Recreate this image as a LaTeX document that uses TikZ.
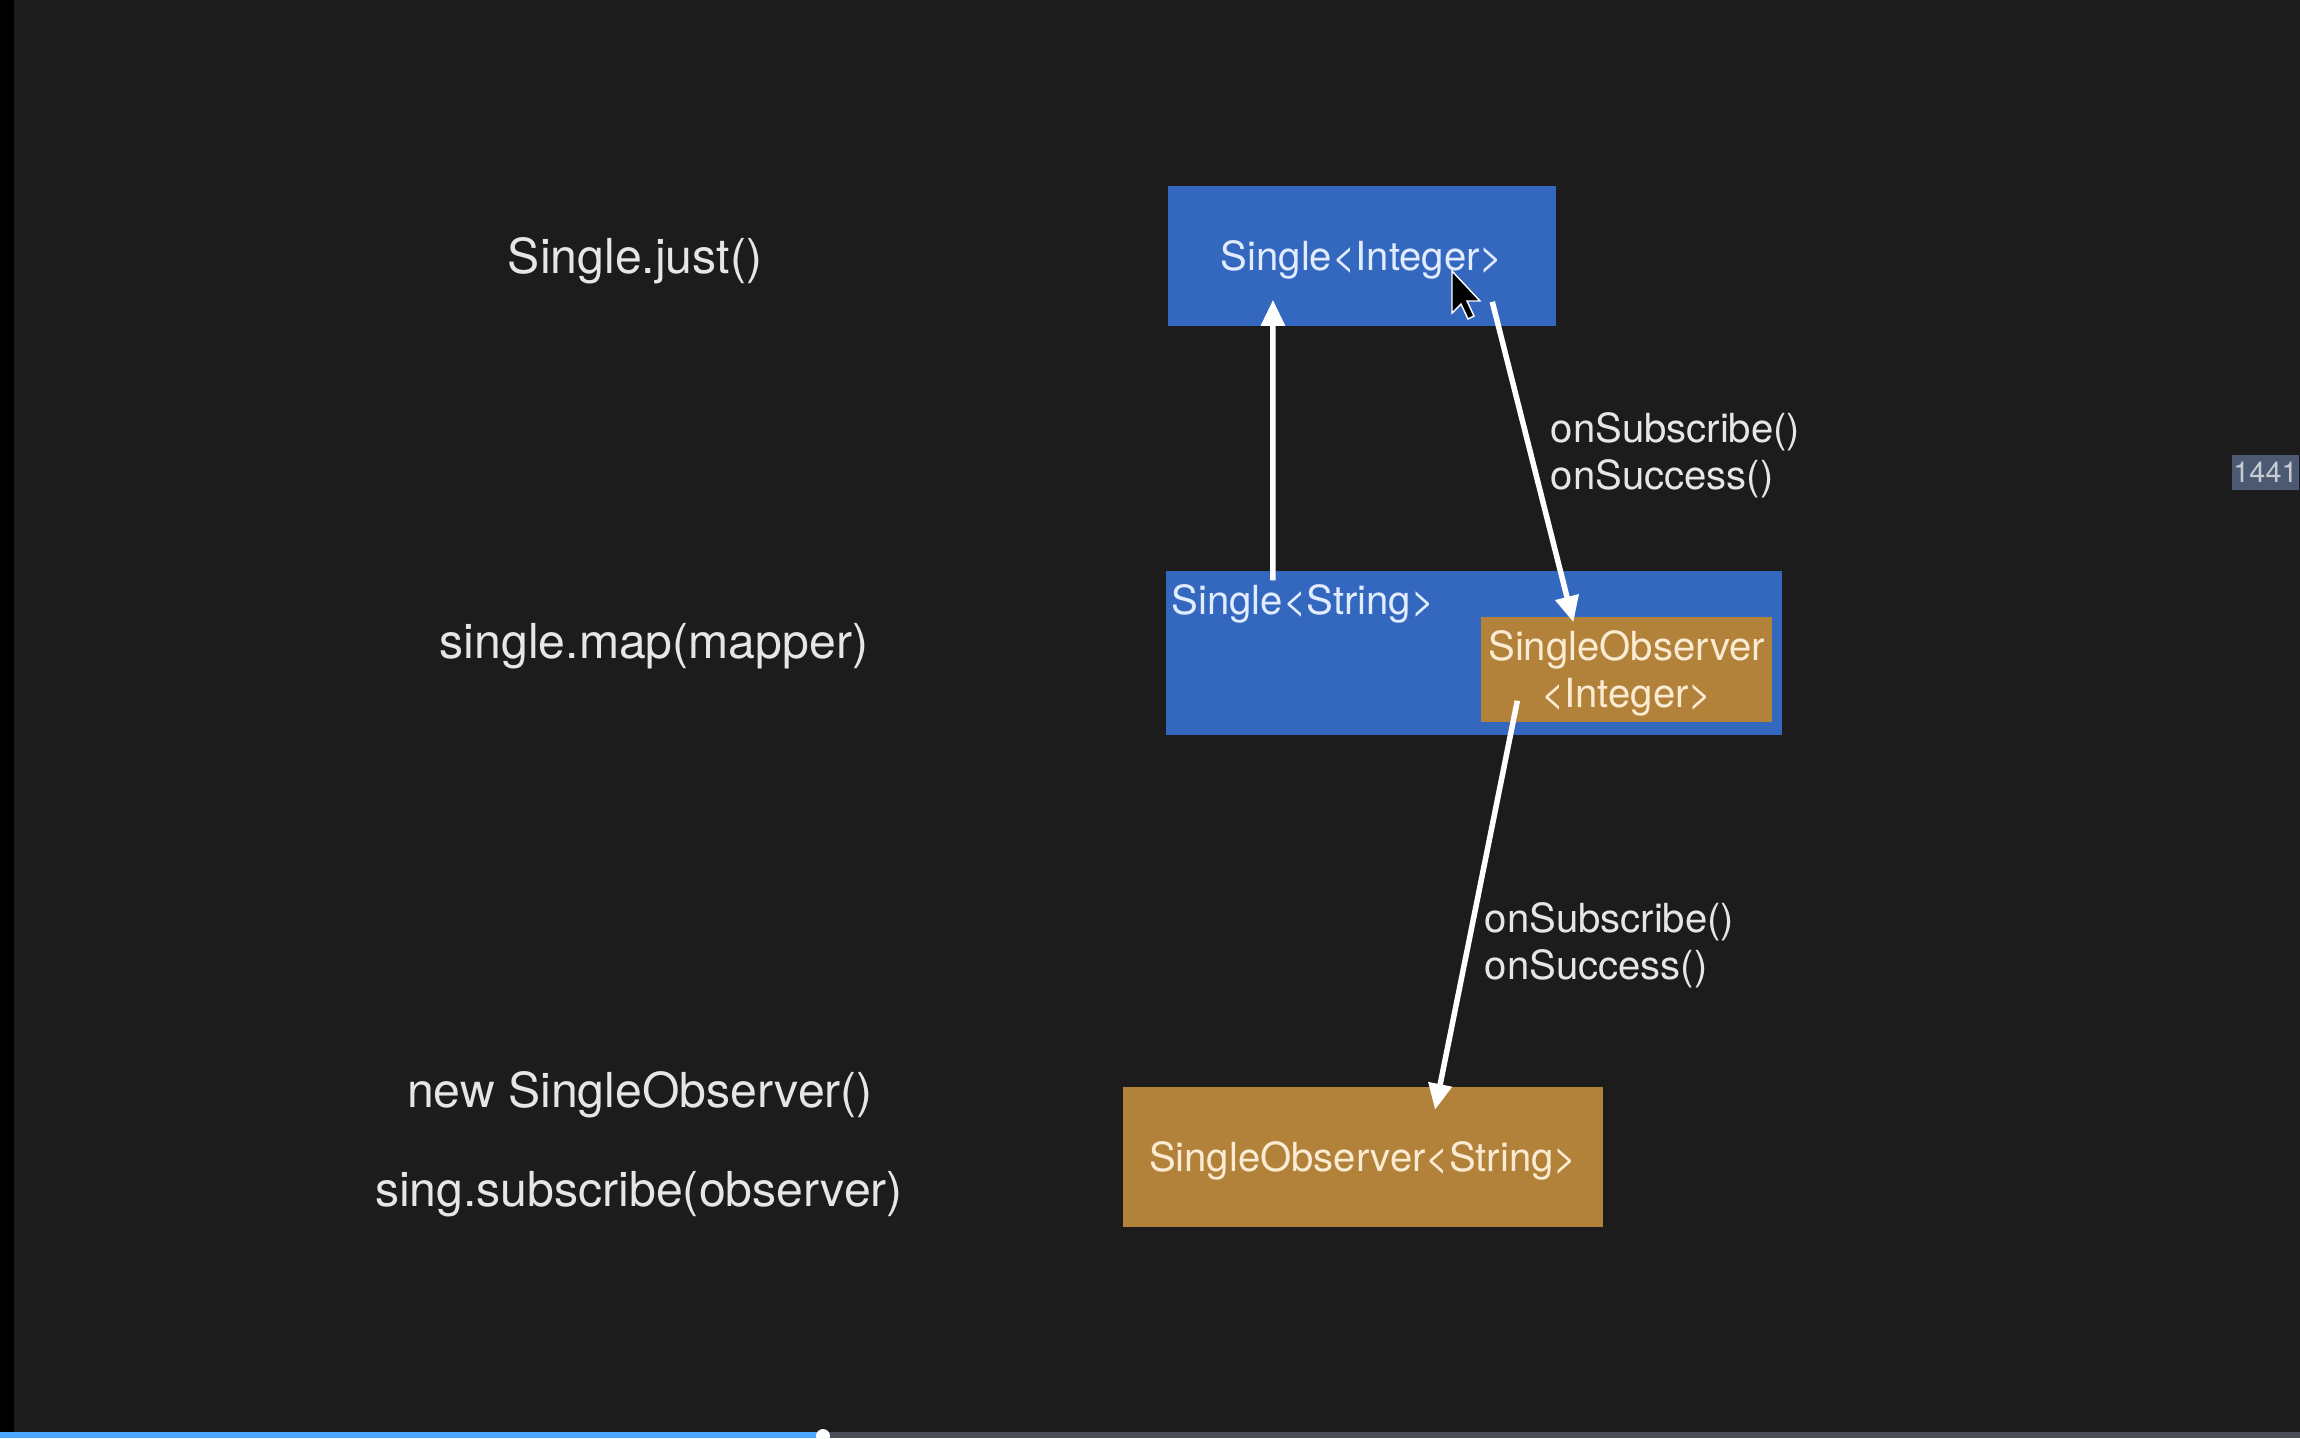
\documentclass[tikz,border=0pt]{standalone}
\usepackage{fontspec}
\setmainfont{TeX Gyre Heros}
\usetikzlibrary{arrows.meta, positioning, calc}
\definecolor{bgdark}{HTML}{1C1C1C}
\definecolor{singleblue}{HTML}{3467BE}
\definecolor{observerorange}{HTML}{B2823A}
\definecolor{bluetext}{HTML}{E2ECFF}
\definecolor{orangetext}{HTML}{FBEBD2}
\definecolor{codegrey}{HTML}{E6E6E6}
\definecolor{barblue}{HTML}{4DA6FF}
\definecolor{bargrey}{HTML}{4A4D55}
\definecolor{badgeslate}{HTML}{4B5A72}
\definecolor{badgetext}{HTML}{C6CAD2}

\begin{document}
\begin{tikzpicture}[
    x=0.01cm, y=-0.01cm,
    code/.style={
        text=codegrey,
        font=\fontsize{13.7}{16}\selectfont,
        inner sep=0pt
    },
    single/.style={
        rectangle,
        fill=singleblue,
        text=bluetext,
        font=\fontsize{11.4}{13.4}\selectfont,
        text height=0.37cm,
        inner sep=0pt
    },
    observer/.style={
        rectangle,
        fill=observerorange,
        text=orangetext,
        font=\fontsize{11.4}{13.4}\selectfont,
        text height=0.37cm,
        align=center,
        inner sep=0pt
    },
    callout/.style={
        text=codegrey,
        font=\fontsize{11.4}{13.4}\selectfont,
        align=left,
        anchor=west,
        inner sep=0pt
    },
    arr/.style={
        -{Triangle[length=0.26cm, width=0.23cm]},
        line width=0.055cm,
        draw=white
    }
]

% ==========================================
% FRAME
% ==========================================

\fill[bgdark] (0,0) rectangle (2300,1438);
\useasboundingbox (0,0) rectangle (2300,1438);
\fill[black] (0,0) rectangle (14,1438);
\fill[barblue] (0,1432) rectangle (823,1438);
\fill[bargrey] (823,1432) rectangle (2300,1438);
\fill[white] (823,1436) circle (0.07cm);

\node[fill=badgeslate, text=badgetext, font=\fontsize{8.2}{10}\selectfont,
      anchor=east, minimum height=0.35cm, inner xsep=0.5pt, inner ysep=2pt,
      minimum width=0.66cm] (badge) at (2300,472) {1441};

% ==========================================
% CODE COLUMN
% ==========================================

\node[code] (just) at (635,261) {Single.just()};
\node[code] (map) at (654,646) {single.map(mapper)};
\node[code] (newobs) at (640,1095) {new SingleObserver()};
\node[code] (subscribe) at (639,1194) {sing.subscribe(observer)};

% ==========================================
% OBJECTS
% ==========================================

\node[single, minimum width=3.87cm, minimum height=1.40cm] (intsingle) at (1362,256)
{Single<Integer>};

\node[single, minimum width=6.16cm, minimum height=1.64cm] (strsingle) at (1474,653) {};
\node[single, text height=, anchor=west] (strlabel) at (1171,604) {Single<String>};

% two lines: height counts both rows
\node[observer, text height=0.84cm, minimum width=2.91cm, minimum height=1.05cm,
      anchor=south east]
(intobs) at ([xshift=-0.10cm, yshift=0.13cm]strsingle.south east)
{SingleObserver\\<Integer>};

\node[observer, minimum width=4.79cm, minimum height=1.39cm] (strobs) at (1363,1157)
{SingleObserver<String>};

% ==========================================
% CALLS
% ==========================================

\draw[arr] ([xshift=-2.01cm, yshift=-0.10cm]strsingle.north)
  -- ([xshift=-0.89cm, yshift=0.27cm]intsingle.south);

\draw[arr] ([xshift=-0.64cm, yshift=0.25cm]intsingle.south east)
  -- ([xshift=0.93cm, yshift=-0.06cm]intobs.north west);

\draw[arr] ([xshift=0.37cm, yshift=0.22cm]intobs.south west)
  -- ([xshift=0.72cm, yshift=-0.23cm]strobs.north);

\node[callout] (upcalls) at (1550,455) {onSubscribe()\\onSuccess()};
\node[callout] (downcalls) at (1484,945) {onSubscribe()\\onSuccess()};

% mouse pointer
\filldraw[fill=black, draw=white, line width=0.4pt, shift={(1452,271)}]
  (0,0) -- (0,42) -- (9,33) -- (16,48) -- (22,45) -- (15,30) -- (28,30) -- cycle;

\end{tikzpicture}
\end{document}
